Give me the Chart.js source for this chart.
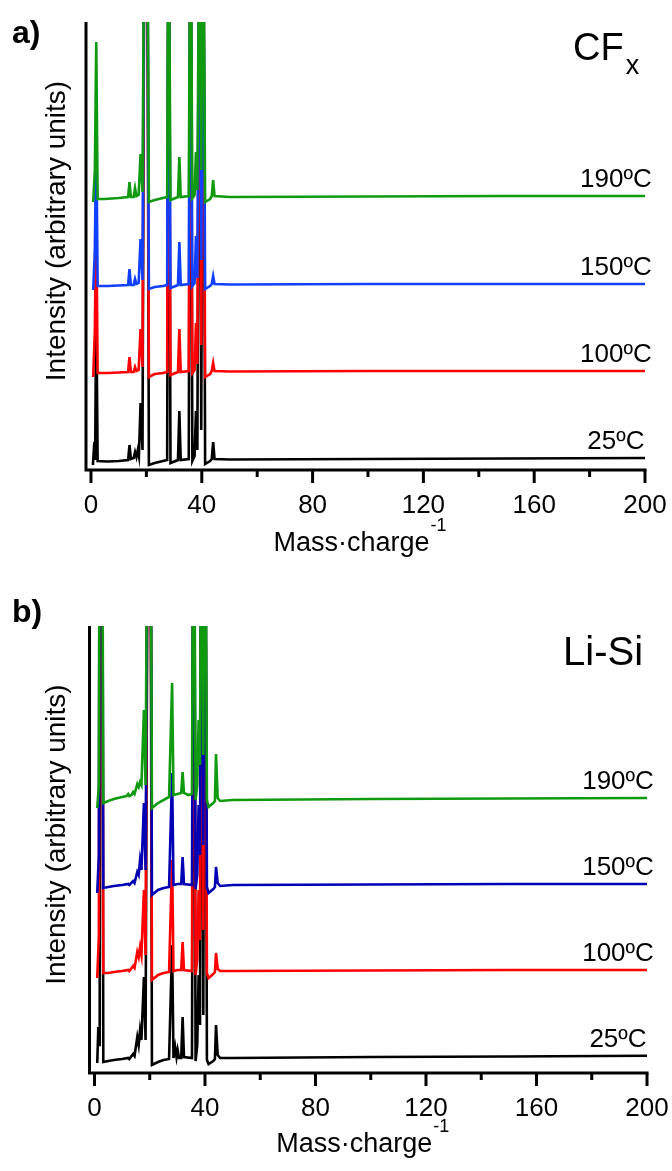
<!DOCTYPE html>
<html lang="en">
  <head>
    <meta charset="UTF-8" />
    <title>Mass spectra - CFx and Li-Si</title>
    <script src="https://cdn.jsdelivr.net/npm/chart.js"></script>
    <style>
      body {
        margin: 0;
        background: #fff;
      }
      canvas {
        display: block;
      }
    </style>
  </head>
  <body>
    <canvas id="chartA" width="672" height="585"></canvas>
    <canvas id="chartB" width="672" height="586"></canvas>

    <script>
      const FONT = "'Liberation Sans', Arial, sans-serif";

      const massTicks = [0, 20, 40, 60, 80, 100, 120, 140, 160, 180, 200];
      const tempLabels = ["25ºC", "100ºC", "150ºC", "190ºC"];

      // a) CFx  -- [mass, intensity]
      const cfx25 = [
        [0.7, 5], [1.2, 28], [1.5, 10], [1.9, 170], [2.4, 9], [6, 8.5], [10, 9],
        [13.4, 10], [13.9, 25], [14.4, 11], [15.4, 12], [15.9, 18], [16.4, 13],
        [16.9, 20], [17.3, 14], [17.9, 67], [18.6, 20], [19.3, 600], [20.3, 600],
        [20.9, 5], [23, 7], [26, 9], [27.5, 10], [28, 600], [28.7, 7], [31.4, 10],
        [31.9, 59], [32.4, 10], [35.3, 11], [35.9, 600], [36.6, 9], [37.4, 14],
        [37.9, 59], [38.4, 20], [39.2, 600], [39.8, 40], [40.5, 600], [41.2, 6],
        [43, 9], [43.6, 11], [44.1, 28], [44.6, 11], [50, 10.5], [100, 11],
        [150, 11.5], [200, 12],
      ];
      const cfx100 = [
        [0.8, 93], [1.4, 140], [1.9, 260], [2.4, 97], [6, 97], [10, 97.5],
        [13.4, 98], [13.9, 113], [14.4, 98], [15.4, 98], [15.9, 103], [16.4, 99],
        [17.2, 100], [17.9, 141], [18.6, 103], [19.3, 600], [20.3, 600], [20.9, 93],
        [23, 96], [26, 97], [27.5, 98], [28, 600], [28.7, 95], [31.4, 98],
        [31.9, 141], [32.4, 98], [35.3, 99], [35.9, 600], [36.6, 97], [37.4, 100],
        [37.9, 147], [38.4, 106], [39.2, 600], [39.8, 125], [40.5, 600], [41.2, 93],
        [43, 96], [43.6, 99], [44.1, 107], [44.6, 99], [50, 98.5], [100, 99],
        [150, 99], [200, 99],
      ];
      const cfx150 = [
        [0.8, 180], [1.4, 220], [1.9, 340], [2.4, 184], [6, 184], [10, 184.5],
        [13.4, 185], [13.9, 201], [14.4, 185], [15.4, 185], [15.9, 191], [16.4, 186],
        [17.2, 187], [17.9, 231], [18.6, 190], [19.3, 600], [20.3, 600], [20.9, 181],
        [23, 183], [26, 184], [27.5, 185], [28, 600], [28.7, 182], [31.4, 185],
        [31.9, 228], [32.4, 185], [35.3, 186], [35.9, 600], [36.6, 184], [37.4, 187],
        [37.9, 234], [38.4, 192], [39.2, 600], [39.8, 210], [40.5, 600], [41.2, 181],
        [43, 184], [43.6, 186], [44.1, 194], [44.6, 186], [50, 185.5], [100, 186],
        [150, 186], [200, 186],
      ];
      const cfx190 = [
        [0.8, 268], [1.4, 300], [1.9, 428], [2.4, 271], [5, 271], [10, 272],
        [13.4, 273], [13.9, 288], [14.4, 273], [15.4, 273], [15.9, 282], [16.4, 274],
        [17.2, 275], [17.9, 316], [18.6, 278], [19.3, 600], [20.3, 600], [20.9, 268],
        [23, 270], [26, 272], [27.5, 273], [28, 600], [28.7, 270], [31.4, 273],
        [31.9, 313], [32.4, 273], [35.3, 274], [35.9, 600], [36.6, 272], [37.4, 275],
        [37.9, 318], [38.4, 280], [39.2, 600], [39.8, 300], [40.5, 600], [41.2, 268],
        [43, 271], [43.6, 274], [44.1, 290], [44.6, 274], [50, 273], [100, 273.5],
        [150, 274], [200, 274],
      ];

      // b) Li-Si
      const lisi25 = [
        [1.0, 10], [1.4, 46], [1.7, 28], [1.9, 700], [2.7, 700], [3.2, 11], [5, 12],
        [7, 13], [10, 14], [12.2, 15], [12.6, 14], [14.0, 19], [14.5, 17], [15.5, 36],
        [16.0, 28], [16.5, 43], [17.0, 33], [17.9, 96], [18.5, 33], [19.4, 700],
        [20.2, 700], [20.8, 8], [23, 11], [25, 13], [27, 14], [28.1, 128], [28.6, 15],
        [29.2, 26], [29.7, 16], [30.1, 23], [30.6, 15], [31.4, 15], [31.9, 56],
        [32.4, 16], [35.3, 15], [35.9, 700], [36.6, 12], [37.2, 28], [37.7, 98],
        [38.2, 48], [38.8, 700], [39.4, 58], [40.0, 700], [40.7, 13], [41.3, 9],
        [43, 12], [43.6, 14], [44.0, 48], [44.6, 18], [45.5, 15], [50, 15], [100, 16],
        [150, 16.5], [200, 17.3],
      ];
      const lisi100 = [
        [1.0, 95], [1.6, 138], [1.9, 700], [2.7, 700], [3.2, 100], [5, 100], [7, 101],
        [10, 102], [12.2, 103], [12.6, 102], [14.0, 107], [14.5, 105], [15.5, 121],
        [16.0, 116], [16.5, 126], [17.0, 118], [17.9, 183], [18.5, 118], [19.4, 700],
        [20.2, 700], [20.8, 93], [23, 98], [25, 100], [27, 101], [28.1, 213],
        [28.6, 102], [30, 103], [31.4, 103], [31.9, 131], [32.4, 103], [35.3, 102],
        [35.9, 700], [36.6, 98], [37.2, 113], [37.7, 183], [38.2, 133], [38.8, 700],
        [39.4, 143], [40.0, 700], [40.7, 100], [41.3, 95], [43, 99], [43.6, 101],
        [44.0, 120], [44.6, 104], [45.5, 102], [50, 102], [100, 102.5], [150, 103],
        [200, 103],
      ];
      const lisi150 = [
        [1.0, 180], [1.6, 218], [1.9, 700], [2.7, 700], [3.2, 185], [5, 186], [7, 187],
        [10, 188], [12.2, 189], [12.6, 188], [14.0, 192], [14.5, 190], [15.5, 201],
        [16.0, 198], [16.5, 213], [17.0, 203], [17.9, 270], [18.5, 203], [19.4, 700],
        [20.2, 700], [20.8, 178], [23, 183], [25, 185], [27, 186], [28.1, 300],
        [28.6, 188], [30, 189], [31.4, 189], [31.9, 216], [32.4, 189], [35.3, 188],
        [35.9, 700], [36.6, 184], [37.2, 198], [37.7, 268], [38.2, 218], [38.8, 700],
        [39.4, 228], [40.0, 700], [40.7, 186], [41.3, 180], [43, 184], [43.6, 186],
        [44.0, 206], [44.6, 190], [45.5, 187], [50, 188], [100, 188.5], [150, 189],
        [200, 189],
      ];
      const lisi190 = [
        [1.0, 265], [1.6, 288], [1.9, 700], [2.7, 700], [3.2, 270], [5, 272], [7, 274],
        [10, 276], [11.6, 277], [12.2, 279], [12.6, 277], [13.4, 278], [14.0, 281],
        [14.5, 279], [15.5, 289], [16.0, 286], [16.5, 291], [17.0, 288], [17.9, 363],
        [18.5, 288], [19.4, 700], [20.2, 700], [20.8, 265], [23, 270], [25, 273],
        [27, 276], [28.1, 390], [28.6, 278], [30, 279], [31.4, 280], [31.9, 301],
        [32.4, 280], [34, 278], [35.3, 279], [35.9, 700], [36.6, 273], [37.2, 288],
        [37.7, 353], [38.2, 308], [38.8, 700], [39.4, 318], [40.0, 700], [40.7, 273],
        [41.3, 266], [43, 270], [43.6, 272], [44.0, 319], [44.6, 275], [45.5, 272],
        [50, 273], [100, 274], [150, 274.5], [200, 275],
      ];

      const cfxColors = ["#000000", "#ff0000", "#1040ff", "#109a10"];
      const lisiColors = ["#000000", "#ff0000", "#0000b4", "#109a10"];

      function makeChart(id, p) {
        const canvas = document.getElementById(id);

        const decorations = {
          id: "decorations",
          afterDraw(chart) {
            const ctx = chart.ctx;
            const a = chart.chartArea;
            const xs = chart.scales.x;
            const ys = chart.scales.y;
            ctx.save();
            ctx.fillStyle = "#000";
            ctx.strokeStyle = "#000";

            // axis frame (left + bottom) and tick marks
            ctx.lineWidth = 3;
            ctx.beginPath();
            ctx.moveTo(a.left, a.top);
            ctx.lineTo(a.left, a.bottom);
            ctx.lineTo(a.right + 1.5, a.bottom);
            ctx.stroke();
            massTicks.forEach((v) => {
              const px = xs.getPixelForValue(v);
              const len = v % 40 === 0 ? 13 : 7;
              ctx.beginPath();
              ctx.moveTo(px, a.bottom);
              ctx.lineTo(px, a.bottom + len);
              ctx.stroke();
            });

            // x title with superscript
            ctx.textBaseline = "alphabetic";
            ctx.textAlign = "left";
            ctx.font = "27px " + FONT;
            const main = "Mass·charge";
            const wMain = ctx.measureText(main).width;
            ctx.font = "18px " + FONT;
            const wSup = ctx.measureText("-1").width;
            const cx = (a.left + a.right) / 2 - 6;
            const x0 = cx - (wMain + wSup) / 2;
            ctx.font = "27px " + FONT;
            ctx.fillText(main, x0, p.titleY);
            ctx.font = "18px " + FONT;
            ctx.fillText("-1", x0 + wMain + 1, p.titleY - 20);

            // y title
            ctx.save();
            ctx.translate(57, (a.top + a.bottom) / 2 - 15);
            ctx.rotate(-Math.PI / 2);
            ctx.textAlign = "center";
            ctx.textBaseline = "middle";
            ctx.font = "28px " + FONT;
            ctx.fillText("Intensity (arbitrary units)", 0, 0);
            ctx.restore();

            // panel letter
            ctx.font = "bold 32px " + FONT;
            ctx.textAlign = "left";
            ctx.fillText(p.letter, 12, p.letterY);

            // sample name
            if (p.sub) {
              ctx.font = "38px " + FONT;
              ctx.fillText(p.sample, 573, p.sampleY);
              const w = ctx.measureText(p.sample).width;
              ctx.font = "27px " + FONT;
              ctx.fillText(p.sub, 573 + w + 2, p.sampleY + 14);
            } else {
              ctx.font = "40px " + FONT;
              ctx.fillText(p.sample, 563, p.sampleY);
            }

            // temperature labels above each trace
            ctx.font = "26px " + FONT;
            ctx.textAlign = "center";
            p.series.forEach((s, i) => {
              const last = s[s.length - 1][1];
              ctx.fillText(
                tempLabels[i],
                xs.getPixelForValue(189.5),
                ys.getPixelForValue(last) - 9
              );
            });
            ctx.restore();
          },
        };

        return new Chart(canvas, {
          type: "line",
          data: {
            datasets: p.series.map((d, i) => ({
              label: tempLabels[i],
              data: d,
              borderColor: p.colors[i],
              borderWidth: 2.6,
              pointRadius: 0,
              tension: 0,
              fill: false,
              order: 3 - i,
            })),
          },
          options: {
            responsive: false,
            animation: false,
            events: [],
            layout: {
              padding: { left: p.left, right: 672 - p.right, top: p.top, bottom: 0 },
            },
            plugins: {
              legend: { display: false },
              tooltip: { enabled: false },
            },
            scales: {
              x: {
                type: "linear",
                min: -1.8,
                max: 200,
                afterBuildTicks: (s) => {
                  s.ticks = massTicks.map((v) => ({ value: v }));
                },
                afterFit: (s) => {
                  s.height = canvas.height - p.bottom;
                  s.paddingLeft = 0;
                  s.paddingRight = 0;
                },
                grid: { display: false, drawTicks: false },
                border: { display: false },
                ticks: {
                  color: "#000",
                  font: { family: FONT, size: 26 },
                  padding: 20,
                  maxRotation: 0,
                  autoSkip: false,
                  callback: (v) => (v % 40 === 0 ? v : ""),
                },
              },
              y: { display: false, min: 0, max: p.ymax },
            },
          },
          plugins: [decorations],
        });
      }

      makeChart("chartA", {
        series: [cfx25, cfx100, cfx150, cfx190],
        colors: cfxColors,
        left: 86,
        right: 645,
        top: 22,
        bottom: 470,
        ymax: 448,
        titleY: 551,
        letter: "a)",
        letterY: 43,
        sample: "CF",
        sub: "x",
        sampleY: 60,
      });

      makeChart("chartB", {
        series: [lisi25, lisi100, lisi150, lisi190],
        colors: lisiColors,
        left: 89.5,
        right: 647,
        top: 41,
        bottom: 488,
        ymax: 447,
        titleY: 567,
        letter: "b)",
        letterY: 37,
        sample: "Li-Si",
        sub: "",
        sampleY: 80,
      });
    </script>
  </body>
</html>
